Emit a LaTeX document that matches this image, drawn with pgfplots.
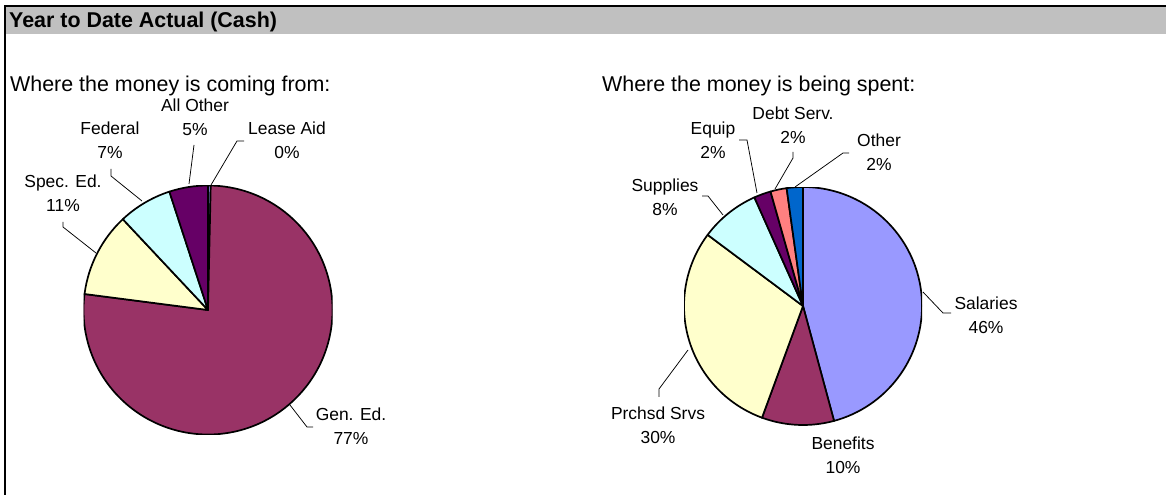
\documentclass[border=0pt]{standalone}
\usepackage{fontspec}
\setmainfont{Liberation Sans}
\usepackage{pgfplots}
\usepackage{pgfplotstable}
\pgfplotsset{compat=1.18}

\definecolor{cLav}{HTML}{9999FF}
\definecolor{cPlum}{HTML}{993366}
\definecolor{cIvory}{HTML}{FFFFCC}
\definecolor{cCyan}{HTML}{CCFFFF}
\definecolor{cPurple}{HTML}{660066}
\definecolor{cCoral}{HTML}{FF8080}
\definecolor{cBlue}{HTML}{0066CC}
\definecolor{cHead}{HTML}{C0C0C0}

% income shares, clockwise from 12 o'clock
\pgfplotstableread{
value colour
0.35  cLav
76.70 cPlum
10.96 cIvory
6.97  cCyan
5.02  cPurple
}\incometable

% spending shares, clockwise from 12 o'clock
\pgfplotstableread{
value colour
45.8 cLav
9.8  cPlum
29.6 cIvory
8.1  cCyan
2.3  cPurple
2.2  cCoral
2.2  cBlue
}\spendtable

\newcommand{\drawpie}[2]{% #1 table, #2 radius
  \pgfplotsextra{%
    \gdef\pieacc{90}%
    \pgfplotstablegetrowsof{#1}%
    \pgfmathtruncatemacro\lastrow{\pgfplotsretval-1}%
    \foreach \i in {0,...,\lastrow}{%
      \pgfplotstablegetelem{\i}{value}\of{#1}\let\sliceval\pgfplotsretval
      \pgfplotstablegetelem{\i}{colour}\of{#1}\let\slicecol\pgfplotsretval
      \pgfmathsetmacro\sliceend{\pieacc-3.6*\sliceval}%
      \filldraw[fill=\slicecol, draw=black, line width=1.7bp, line join=round]
        (axis cs:0,0) -- ++(\pieacc:#2) arc[start angle=\pieacc, end angle=\sliceend, radius=#2] -- cycle;
      \global\let\pieacc\sliceend
    }%
  }%
}

\newcommand{\lbl}{\fontsize{17.5}{24}\selectfont}
\newcommand{\ttl}{\fontsize{21.5}{26}\selectfont}

\begin{document}
\begin{tikzpicture}[x=1bp,y=1bp]
  \path[use as bounding box] (0,0) rectangle (1166,-495);

  % frame and header bar
  \fill[cHead] (5.5,-7) rectangle (1166,-34);
  \draw[line width=2bp] (4.5,-495) -- (4.5,-6) -- (1166,-6);
  \node[anchor=base west, inner sep=0, font=\ttl\bfseries] at (9,-28) {Year to Date Actual (Cash)};

  \node[anchor=base west, inner sep=0, font=\ttl] at (10,-92) {Where the money is coming from:};
  \node[anchor=base west, inner sep=0, font=\ttl] at (602,-92) {Where the money is being spent:};

  % left pie
  \begin{axis}[at={(208bp,-310bp)}, anchor=center, hide axis, scale only axis,
      width=249bp, height=249bp, xmin=-1, xmax=1, ymin=-1, ymax=1]
    \drawpie{\incometable}{124.5bp}
  \end{axis}

  % right pie
  \begin{axis}[at={(803bp,-306bp)}, anchor=center, hide axis, scale only axis,
      width=238bp, height=238bp, xmin=-1, xmax=1, ymin=-1, ymax=1]
    \drawpie{\spendtable}{119bp}
  \end{axis}

  % leader lines
  \begin{scope}[line width=0.75bp]
    \draw (194,-145) -- (189,-184);
    \draw (244,-141) -- (237,-141) -- (211,-185);
    \draw (111,-169) -- (111,-176) -- (142,-201);
    \draw (63,-222) -- (63,-227) -- (96,-253);
    \draw (290,-405) -- (307,-427) -- (313,-427);

    \draw (793,-152) -- (793,-158) -- (775,-189);
    \draw (739,-140) -- (747,-140) -- (757,-193);
    \draw (849,-153) -- (843,-153) -- (795,-187);
    \draw (702,-196) -- (708,-196) -- (723,-215);
    \draw (923,-292) -- (943,-313) -- (951,-313);
    \draw (688,-350) -- (659,-389) -- (659,-397);
  \end{scope}

  % data labels
  \begin{scope}[every node/.style={align=center, font=\lbl, inner sep=0}]
    \node at (195,-117) {All Other\\5\%};
    \node at (287,-140) {Lease Aid\\0\%};
    \node at (110,-140) {Federal\\7\%};
    \node at (63,-193) {Spec. Ed.\\11\%};
    \node at (351,-426) {Gen. Ed.\\77\%};

    \node at (793,-125) {Debt Serv.\\2\%};
    \node at (713,-140) {Equip\\2\%};
    \node at (879,-152) {Other\\2\%};
    \node at (665,-197) {Supplies\\8\%};
    \node at (986,-315) {Salaries\\46\%};
    \node at (843,-455) {Benefits\\10\%};
    \node at (658,-425) {Prchsd Srvs\\30\%};
  \end{scope}
\end{tikzpicture}
\end{document}
